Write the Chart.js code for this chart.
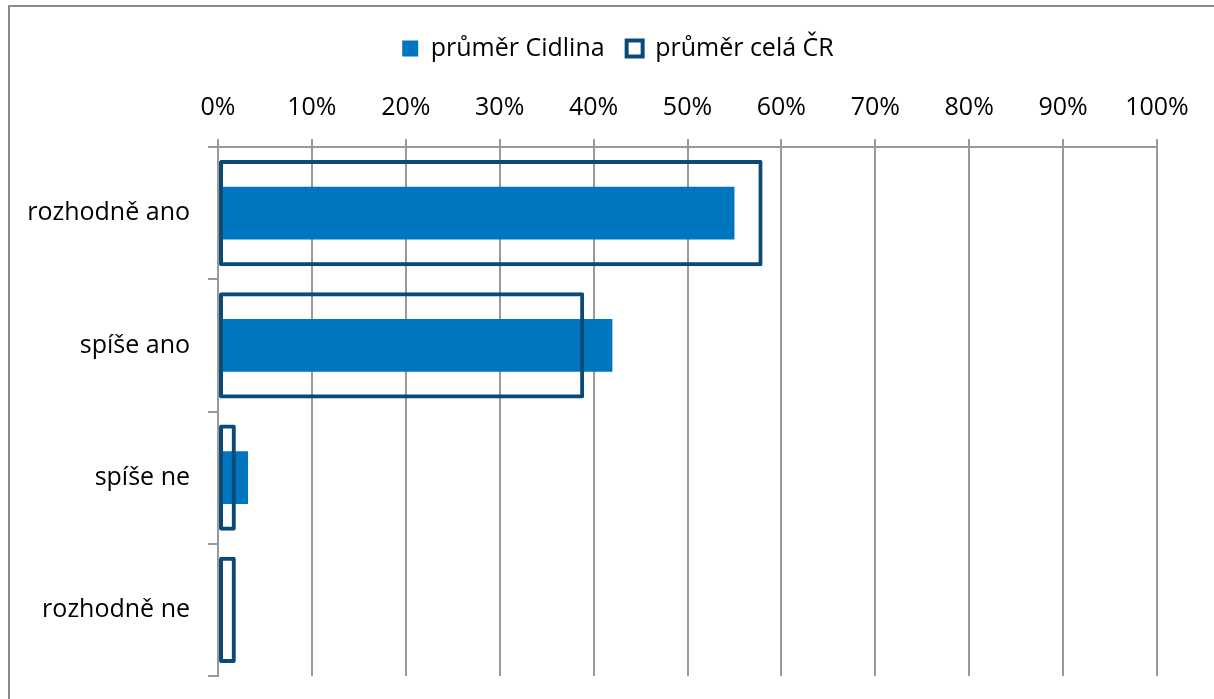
<!DOCTYPE html>
<html>
<head>
<meta charset="utf-8">
<script src="https://cdn.jsdelivr.net/npm/chart.js@4"></script>
<style>
    body { margin: 0; background: #fff; overflow: hidden; }
    #wrap { position: relative; width: 1214px; height: 699px; }
    #frame { position: absolute; left: 8px; top: 5px; width: 1300px; height: 800px;
             border-left: 2px solid #8a8a8a; border-top: 2px solid #8a8a8a; }
    #chart-host { position: absolute; left: 0; top: 0; }
</style>
</head>
<body>
<div id="wrap">
    <div id="frame"></div>
    <canvas id="chart-host" width="1214" height="699"></canvas>
</div>
<script>
// categories and values (percent)
var categories = ['rozhodně ano', 'spíše ano', 'spíše ne', 'rozhodně ne'];
var cidlina = [55, 42, 3.2, 0];
var celaCR = [58, 39, 1.9, 1.9];
var seriesNames = ['průměr Cidlina', 'průměr celá ČR'];

var fillBlue = '#0075c0';
var darkBlue = '#0b4a75';
var gridGray = '#9a9a9a';
var font = "'Open Sans', 'Noto Sans', sans-serif";

var host = document.getElementById('chart-host');

new Chart(host, {
    type: 'bar',
    data: {
        labels: categories,
        datasets: [
            {
                label: seriesNames[0],
                data: cidlina,
                backgroundColor: fillBlue,
                borderWidth: 0,
                grouped: false,
                categoryPercentage: 1,
                barPercentage: 0.4,
                order: 1
            },
            {
                label: seriesNames[1],
                data: celaCR,
                backgroundColor: 'rgba(255, 255, 255, 0)',
                borderColor: darkBlue,
                borderWidth: 4,
                borderSkipped: false,
                borderRadius: 2,
                grouped: false,
                categoryPercentage: 1,
                barPercentage: 0.805,
                order: 0
            }
        ]
    },
    options: {
        indexAxis: 'y',
        responsive: false,
        animation: false,
        devicePixelRatio: 1,
        layout: { padding: { left: 22, right: 0, top: 14, bottom: 23 } },
        plugins: {
            tooltip: { enabled: false },
            legend: {
                position: 'top',
                labels: {
                    color: '#000',
                    font: { family: font, size: 25 },
                    boxWidth: 16,
                    boxHeight: 16,
                    padding: 22,
                    sort: (a, b) => a.datasetIndex - b.datasetIndex,
                    generateLabels: function (chart) {
                        return chart.data.datasets.map(function (ds, i) {
                            return {
                                text: ds.label,
                                fillStyle: i === 0 ? fillBlue : '#fff',
                                strokeStyle: i === 0 ? fillBlue : darkBlue,
                                lineWidth: i === 0 ? 0 : 4,
                                fontColor: '#000',
                                datasetIndex: i
                            };
                        });
                    }
                }
            }
        },
        scales: {
            x: {
                position: 'top',
                min: 0,
                max: 100,
                ticks: {
                    stepSize: 10,
                    color: '#000',
                    padding: 16,
                    font: { family: font, size: 25 },
                    callback: v => v + '%'
                },
                grid: { color: gridGray, lineWidth: 2, tickLength: 8, tickColor: gridGray },
                border: { color: gridGray, width: 2 },
                afterFit: function (scale) { scale.height = 76; }
            },
            y: {
                ticks: {
                    color: '#000',
                    padding: 18,
                    font: { family: font, size: 25 }
                },
                grid: {
                    offset: true,
                    lineWidth: 2,
                    tickLength: 10,
                    tickColor: gridGray,
                    color: ctx => (ctx.index === categories.length ? gridGray : 'rgba(0,0,0,0)')
                },
                border: { color: gridGray, width: 2 },
                afterFit: function (scale) {
                    scale.width = 196;
                    scale.paddingTop = 0;
                    scale.paddingBottom = 0;
                }
            },
            // empty right axis, only keeps room for the "100%" label
            y2: {
                position: 'right',
                grid: { display: false },
                ticks: { display: false },
                border: { display: false },
                afterFit: function (scale) {
                    scale.width = 57;
                    scale.paddingTop = 0;
                    scale.paddingBottom = 0;
                }
            }
        }
    }
});
</script>
</body>
</html>
